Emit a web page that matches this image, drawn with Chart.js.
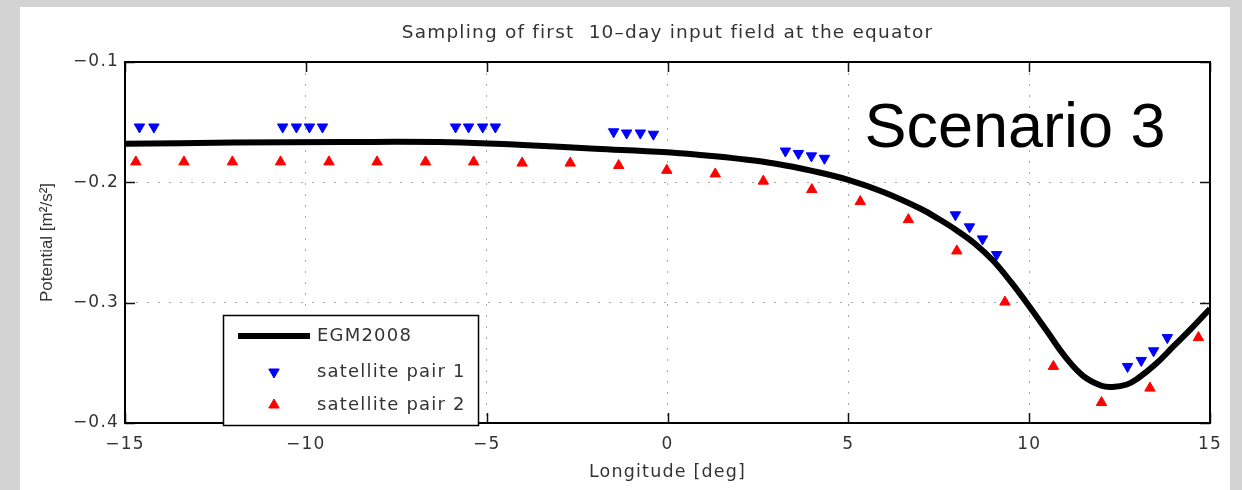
<!DOCTYPE html>
<html lang="en">
<head>
  <meta charset="UTF-8">
  <title>Sampling of first 10-day input field at the equator</title>
  <script src="https://cdn.jsdelivr.net/npm/chart.js"></script>
  <style>
    html, body { margin: 0; padding: 0; background: #d3d3d3; }
    #wrap { position: relative; width: 1242px; height: 490px; overflow: hidden; }
    #panel { position: absolute; left: 20px; top: 7px; width: 1210px; height: 483px; background: #fff; }
    #c { position: absolute; left: 0; top: 0; }
  </style>
</head>
<body>
  <div id="wrap">
    <div id="panel"></div>
    <canvas id="c" width="1242" height="490"></canvas>
  </div>

  <script>
    // EGM2008 reference curve
    const egmLon = [-15, -12, -9, -6, -4, -2, 0, 1, 2, 3, 4, 5, 6, 7, 7.5, 8, 8.5, 9, 9.5, 10, 10.5, 11, 11.5, 12, 12.3, 12.7, 13, 13.5, 14, 14.5, 15];
    const egmVal = [-0.168, -0.167, -0.1665, -0.1667, -0.169, -0.172, -0.175, -0.1775, -0.1805, -0.1845, -0.1905, -0.198, -0.2085, -0.222, -0.2305, -0.240, -0.251, -0.265, -0.283, -0.303, -0.324, -0.345, -0.361, -0.369, -0.370, -0.368, -0.363, -0.351, -0.336, -0.321, -0.305];

    // satellite pair 1 (blue, down triangles)
    const pair1Lon = [-14.6, -14.2, -10.64, -10.26, -9.9, -9.54, -5.86, -5.5, -5.11, -4.76, -1.49, -1.13, -0.75, -0.39, 3.26, 3.62, 3.98, 4.34, 7.96, 8.35, 8.71, 9.1, 12.72, 13.1, 13.44, 13.82];
    const pair1Val = [-0.154, -0.154, -0.154, -0.154, -0.154, -0.154, -0.154, -0.154, -0.154, -0.154, -0.158, -0.159, -0.159, -0.160, -0.174, -0.176, -0.178, -0.180, -0.227, -0.237, -0.247, -0.260, -0.353, -0.348, -0.340, -0.329];

    // satellite pair 2 (red, up triangles)
    const pair2Lon = [-14.7, -13.37, -12.03, -10.7, -9.36, -8.03, -6.69, -5.36, -4.02, -2.69, -1.35, -0.02, 1.32, 2.65, 3.99, 5.33, 6.66, 8.0, 9.33, 10.67, 12.0, 13.34, 14.68];
    const pair2Val = [-0.183, -0.183, -0.183, -0.183, -0.183, -0.183, -0.183, -0.183, -0.184, -0.184, -0.186, -0.190, -0.193, -0.199, -0.206, -0.216, -0.231, -0.257, -0.2995, -0.353, -0.383, -0.371, -0.329];

    const xTicks = [-15, -10, -5, 0, 5, 10, 15];
    const yTicks = [-0.4, -0.3, -0.2, -0.1];

    const chartTitle = 'Sampling of first  10\u2013day input field at the equator';
    const xTitle = 'Longitude [deg]';
    const yTitle = 'Potential [m\u00b2/s\u00b2]';
    const legendLabels = ['EGM2008', 'satellite pair 1', 'satellite pair 2'];
    const scenarioText = 'Scenario 3';

    const toXY = (xs, ys) => xs.map((x, i) => ({ x: x, y: ys[i] }));
    const minus = s => s.replace('-', '\u2212');

    const textColor = '#333';
    const wideFont = '"DejaVu Sans", Verdana, sans-serif';
    const spacing = '1.2px';
    const markR = 6;

    // title, box, inward ticks, y title, legend and the scenario label
    const extras = {
      id: 'extras',
      beforeDraw(chart) {
        chart.ctx.letterSpacing = spacing;
      },
      afterDatasetsDraw(chart) {
        const ctx = chart.ctx;
        const a = chart.chartArea;
        const xs = chart.scales.x, ys = chart.scales.y;
        ctx.save();
        ctx.strokeStyle = '#111';
        ctx.lineWidth = 1.5;
        ctx.beginPath();
        xTicks.forEach(v => {
          const px = Math.round(xs.getPixelForValue(v)) + 0.5;
          ctx.moveTo(px, a.bottom); ctx.lineTo(px, a.bottom - 10);
          ctx.moveTo(px, a.top); ctx.lineTo(px, a.top + 10);
        });
        yTicks.forEach(v => {
          const py = Math.round(ys.getPixelForValue(v)) + 0.5;
          ctx.moveTo(a.left, py); ctx.lineTo(a.left + 10, py);
          ctx.moveTo(a.right, py); ctx.lineTo(a.right - 10, py);
        });
        ctx.stroke();
        ctx.lineWidth = 2;
        ctx.strokeStyle = '#000';
        ctx.strokeRect(a.left, a.top, a.right - a.left, a.bottom - a.top);
        ctx.restore();
      },
      afterDraw(chart) {
        const ctx = chart.ctx;
        const a = chart.chartArea;
        const ds = chart.data.datasets;
        ctx.save();

        // title, centred over the plot box
        ctx.letterSpacing = spacing;
        ctx.fillStyle = textColor;
        ctx.font = '18.5px ' + wideFont;
        ctx.textAlign = 'center';
        ctx.textBaseline = 'middle';
        ctx.fillText(chartTitle, (a.left + a.right) / 2, 33);

        // y axis title, not stretched
        ctx.letterSpacing = '0px';
        ctx.font = '17px "Liberation Sans", Arial, sans-serif';
        ctx.translate(47, (a.top + a.bottom) / 2);
        ctx.rotate(-Math.PI / 2);
        ctx.fillText(yTitle, 0, 0);
        ctx.setTransform(1, 0, 0, 1, 0, 0);

        // legend
        const lx = 223, ly = 315, lw = 255, lh = 110;
        ctx.fillStyle = '#fff';
        ctx.fillRect(lx, ly, lw, lh);
        ctx.strokeStyle = '#000';
        ctx.lineWidth = 1.5;
        ctx.strokeRect(lx + 0.5, ly + 0.5, lw, lh);
        const rows = [336, 372, 405];
        ctx.strokeStyle = ds[0].borderColor;
        ctx.lineWidth = ds[0].borderWidth;
        ctx.beginPath();
        ctx.moveTo(238, rows[0]);
        ctx.lineTo(310, rows[0]);
        ctx.stroke();
        [1, 2].forEach(k => {
          ctx.lineWidth = ds[k].borderWidth;
          ctx.fillStyle = ds[k].backgroundColor;
          ctx.strokeStyle = ds[k].borderColor;
          Chart.helpers.drawPoint(ctx, {
            pointStyle: ds[k].pointStyle,
            rotation: ds[k].rotation,
            radius: ds[k].pointRadius,
            borderWidth: ds[k].borderWidth
          }, 274, rows[k]);
        });
        ctx.letterSpacing = spacing;
        ctx.fillStyle = textColor;
        ctx.font = '18px ' + wideFont;
        ctx.textAlign = 'left';
        ctx.textBaseline = 'middle';
        legendLabels.forEach((t, i) => ctx.fillText(t, 317, rows[i]));

        // scenario label
        ctx.letterSpacing = '0px';
        ctx.fillStyle = '#000';
        ctx.font = '63px "Liberation Sans", Arial, sans-serif';
        ctx.textAlign = 'center';
        ctx.textBaseline = 'alphabetic';
        ctx.fillText(scenarioText, 1015, 147);
        ctx.restore();
      }
    };

    const ctx = document.getElementById('c').getContext('2d');
    new Chart(ctx, {
      type: 'scatter',
      data: {
        datasets: [
          {
            label: legendLabels[0],
            type: 'line',
            data: toXY(egmLon, egmVal),
            borderColor: '#000',
            borderWidth: 6,
            pointRadius: 0,
            tension: 0.4,
            fill: false,
            order: 3
          },
          {
            label: legendLabels[1],
            data: toXY(pair1Lon, pair1Val),
            pointStyle: 'triangle',
            rotation: 180,
            pointRadius: markR,
            backgroundColor: '#0000ff',
            borderColor: '#0000ff',
            borderWidth: 1,
            order: 1
          },
          {
            label: legendLabels[2],
            data: toXY(pair2Lon, pair2Val),
            pointStyle: 'triangle',
            rotation: 0,
            pointRadius: markR,
            backgroundColor: '#ff0000',
            borderColor: '#ff0000',
            borderWidth: 1,
            order: 2
          }
        ]
      },
      options: {
        responsive: false,
        animation: false,
        devicePixelRatio: 1,
        events: [],
        layout: { padding: { left: 0, right: 32, top: 62, bottom: 0 } },
        plugins: {
          legend: { display: false },
          tooltip: { enabled: false },
          title: { display: false }
        },
        scales: {
          x: {
            type: 'linear',
            min: -15,
            max: 15,
            afterFit: s => { s.height = 67; },
            ticks: {
              stepSize: 5,
              padding: 11,
              color: textColor,
              font: { family: wideFont, size: 17 },
              callback: v => minus(String(v))
            },
            grid: { color: '#a8a8a8', lineWidth: 1, drawTicks: false },
            border: { display: false, dash: [2, 9] },
            title: {
              display: true,
              text: xTitle,
              color: textColor,
              font: { family: wideFont, size: 17.5 },
              padding: { top: 0, bottom: 7.5 }
            }
          },
          y: {
            type: 'linear',
            min: -0.4,
            max: -0.1,
            afterFit: s => { s.width = 125; },
            afterBuildTicks: s => { s.ticks = yTicks.map(v => ({ value: v })); },
            ticks: {
              padding: 6,
              color: textColor,
              font: { family: wideFont, size: 17 },
              callback: v => minus(Number(v).toFixed(1))
            },
            grid: { color: '#a8a8a8', lineWidth: 1, drawTicks: false },
            border: { display: false, dash: [2, 9] }
          }
        }
      },
      plugins: [extras]
    });
  </script>
</body>
</html>
